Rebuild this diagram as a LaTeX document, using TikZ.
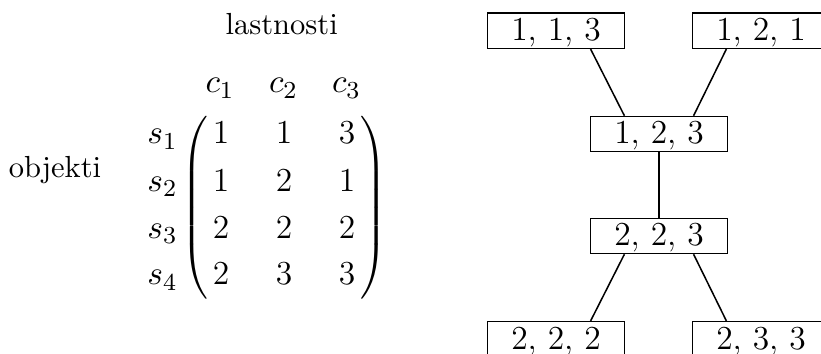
\documentclass[tikz,border=0pt]{standalone}
\usetikzlibrary{calc}
\begin{document}
\begin{tikzpicture}[x=0.3279pt,y=-0.3279pt,
  vbox/.style={draw,line width=0.5pt,inner sep=0pt,minimum width=44.9pt,minimum height=11.5pt,text height=7.1pt,text depth=0.55pt,font=\fontsize{11}{13}\selectfont},
  lbl/.style={anchor=base,inner sep=0pt,font=\fontsize{10}{12}\selectfont},
  ent/.style={anchor=base,inner sep=0pt,font=\fontsize{11}{13}\selectfont},
  paren/.style={inner sep=0pt,font=\fontsize{10.5}{13}\selectfont},
  link/.style={line width=0.5pt}]
\useasboundingbox (0,0) rectangle (821,354);
\clip (0,0) rectangle (821,354);
% labels
\node[lbl] (las) at (281.7,35) {lastnosti};
\node[lbl] (obj) at (55,178) {objekti};
% column headers
\node[ent] (c1) at (220,93) {$c_1$};
\node[ent] (c2) at (283.5,93) {$c_2$};
\node[ent] (c3) at (346.5,93) {$c_3$};
% row labels
\node[ent] (s1) at (162.5,144) {$s_1$};
\node[ent] (s2) at (162.5,191.7) {$s_2$};
\node[ent] (s3) at (162.5,238.3) {$s_3$};
\node[ent] (s4) at (162.5,285) {$s_4$};
% entries
\node[ent] (m11) at (221,144) {1};
\node[ent] (m12) at (284,144) {1};
\node[ent] (m13) at (347,144) {3};
\node[ent] (m21) at (221,191.7) {1};
\node[ent] (m22) at (284,191.7) {2};
\node[ent] (m23) at (347,191.7) {1};
\node[ent] (m31) at (221,238.3) {2};
\node[ent] (m32) at (284,238.3) {2};
\node[ent] (m33) at (347,238.3) {2};
\node[ent] (m41) at (221,285) {2};
\node[ent] (m42) at (284,285) {3};
\node[ent] (m43) at (347,285) {3};
% parentheses
\node[paren] (lp) at (194.5,208) {$\nulldelimiterspace=0pt\delimiterfactor=1000\delimitershortfall=0pt\left(\vcenter{\hbox{\vrule height 59pt width 0pt}}\right.$};
\node[paren] (rp) at (374,208) {$\nulldelimiterspace=0pt\delimiterfactor=1000\delimitershortfall=0pt\left.\vcenter{\hbox{\vrule height 59pt width 0pt}}\right)$};
% lattice
\node[vbox] (a) at (556,30.8) {1, 1, 3};
\node[vbox] (b) at (761,30.8) {1, 2, 1};
\node[vbox] (c) at (659,134) {1, 2, 3};
\node[vbox] (d) at (659,236) {2, 2, 3};
\node[vbox] (e) at (556,339.2) {2, 2, 2};
\node[vbox] (f) at (761,339.2) {2, 3, 3};
\draw[link] ($(a.south)!0.5!(a.south east)$) -- ($(c.north)!0.5!(c.north west)$);
\draw[link] ($(b.south)!0.5!(b.south west)$) -- ($(c.north)!0.5!(c.north east)$);
\draw[link] (c.south) -- (d.north);
\draw[link] ($(d.south)!0.5!(d.south west)$) -- ($(e.north)!0.5!(e.north east)$);
\draw[link] ($(d.south)!0.5!(d.south east)$) -- ($(f.north)!0.5!(f.north west)$);
\end{tikzpicture}
\end{document}
